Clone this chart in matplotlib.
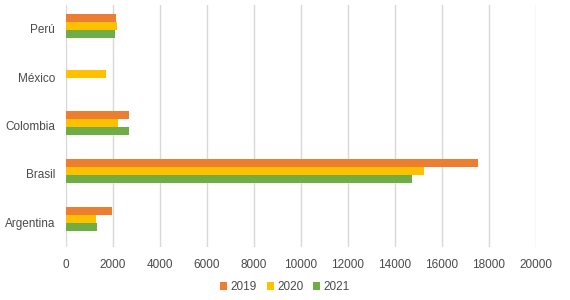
import numpy as np
import matplotlib.pyplot as plt
import matplotlib.transforms as mtransforms

# datos
paises = ['Argentina', 'Brasil', 'Colombia', 'México', 'Perú']
anios = ['2019', '2020', '2021']
v2019 = [1960, 17530, 2680, 0, 2130]
v2020 = [1280, 15230, 2210, 1700, 2170]
v2021 = [1310, 14720, 2680, 0, 2090]
colores = ['#ED7D31', '#FFC000', '#70AD47']
xticks = list(range(0, 20001, 2000))

plt.rcParams['font.family'] = ['Liberation Sans', 'DejaVu Sans']
txt = '#4a4a4a'

fig = plt.figure(figsize=(5.7, 3.0), dpi=100)
ax = fig.add_axes([0.1158, 0.177, 0.8246, 0.806])

y = np.arange(len(paises))
h = 0.165
series = [v2019, v2020, v2021]
for i, (vals, c, lab) in enumerate(zip(series, colores, anios)):
    ax.barh(y + (1 - i) * h, vals, height=h, color=c, label=lab, zorder=3)

ax.set_xlim(0, 20000)
ax.set_ylim(-0.57, len(paises) - 0.57)
ax.set_xticks(xticks)
ax.set_xticklabels([str(t) for t in xticks])
ax.set_yticks(y)
ax.set_yticklabels(paises)
ax.grid(axis='x', color='#D9D9D9', linewidth=1, zorder=0)
for s in ax.spines.values():
    s.set_visible(False)
ax.tick_params(axis='both', length=0, labelsize=8.5, colors=txt)
ax.tick_params(axis='x', pad=9)
ax.tick_params(axis='y', pad=8)

# etiquetas un poco mas abajo que el centro de las barras
shift = mtransforms.ScaledTranslation(0, -3 / 100, fig.dpi_scale_trans)
for lbl in ax.get_yticklabels():
    lbl.set_transform(lbl.get_transform() + shift)

fig.legend(loc='lower center', bbox_to_anchor=(0.5, -0.012), ncol=3, frameon=False,
           fontsize=8.5, handlelength=0.6, handleheight=0.6, handletextpad=0.3,
           columnspacing=0.8, labelcolor=txt)

fig.savefig('out.png', dpi=100)
